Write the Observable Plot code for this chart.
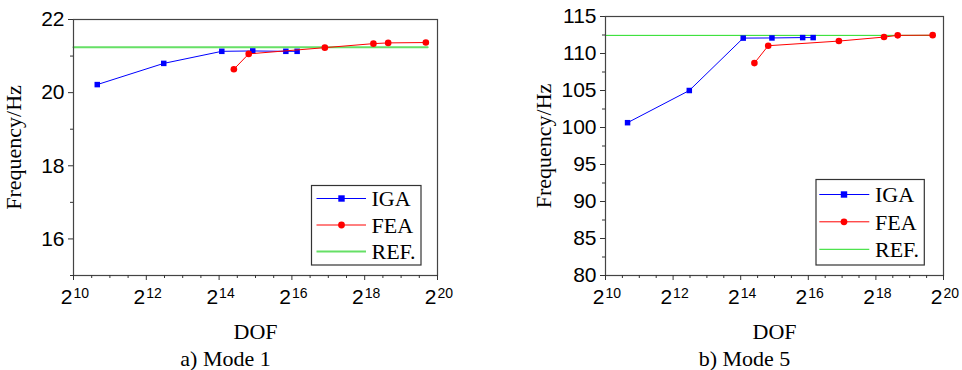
<!DOCTYPE html>
<html>
<head>
<meta charset="utf-8">
<script src="https://cdn.jsdelivr.net/npm/d3@7"></script>
<script src="https://cdn.jsdelivr.net/npm/@observablehq/plot@0.6"></script>
<style>
  body { margin: 0; background: white; }
  #wrap { display: flex; width: 962px; height: 370px; }
</style>
</head>
<body>
<div id="wrap"></div>
<script>
// ---- data ----
const dofIGA = [1610, 5710, 17250, 31100, 58400, 72400];
const dofFEA = [21700, 28800, 122700, 309600, 410000, 840000];
const dofREF = [1024, 870000];
const mode1IGA = [20.22, 20.80, 21.13, 21.14, 21.13, 21.13];
const mode1FEA = [20.64, 21.06, 21.23, 21.34, 21.36, 21.37];
const mode1REF = 21.24;
const mode5IGA = [100.65, 105.0, 112.08, 112.10, 112.15, 112.15];
const mode5FEA = [108.7, 111.05, 111.68, 112.22, 112.45, 112.48];
const mode5REF = 112.45;
const tickExps = [10, 12, 14, 16, 18, 20];
const minorExps = [10.5, 11, 11.5, 12.5, 13, 13.5, 14.5, 15, 15.5, 16.5, 17, 17.5, 18.5, 19, 19.5];
const seriesNames = ["IGA", "FEA", "REF."];
const seriesColors = ["#0000ff", "#ff0000", "#33dd33"];

const SANS = "Liberation Sans, Arial, sans-serif";
const SERIF = "Liberation Serif, Times New Roman, serif";

function panel(cfg) {
  const iga = dofIGA.map((d, i) => ({x: d, y: cfg.iga[i]}));
  const fea = dofFEA.map((d, i) => ({x: d, y: cfg.fea[i]}));
  const ref = dofREF.map(d => ({x: d, y: cfg.ref}));
  const svg = Plot.plot({
    width: 481,
    height: 370,
    marginLeft: cfg.ml,
    marginRight: cfg.mr,
    marginTop: cfg.mt,
    marginBottom: 95,
    style: {fontFamily: SANS, fontSize: "21px", color: "black", background: "white", overflow: "visible"},
    x: {type: "log", base: 2, domain: [2 ** 10, 2 ** 20], axis: null},
    y: {domain: cfg.ydomain, axis: null},
    marks: [
      Plot.line(ref, {x: "x", y: "y", stroke: cfg.refColor, strokeWidth: cfg.refWidth}),
      Plot.line(iga, {x: "x", y: "y", stroke: seriesColors[0], strokeWidth: 1}),
      Plot.dot(iga, {x: "x", y: "y", symbol: "square", fill: seriesColors[0], r: 3.1}),
      Plot.line(fea, {x: "x", y: "y", stroke: seriesColors[1], strokeWidth: 1}),
      Plot.dot(fea, {x: "x", y: "y", symbol: "circle", fill: seriesColors[1], r: 3.3}),
      Plot.frame({stroke: "#444", strokeWidth: 1.2}),
      Plot.axisY({ticks: cfg.yticks, tickSize: 5, tickPadding: 4, tickFormat: d => String(d), label: null, fontSize: 21, fontFamily: SANS, stroke: "#333"}),
      Plot.axisY({ticks: cfg.yminor, tickSize: 3, tickFormat: () => "", label: null, stroke: "#333"}),
      Plot.axisX({ticks: tickExps.map(e => 2 ** e), tickSize: 5, tickFormat: () => "", label: null, stroke: "#333"}),
      Plot.axisX({ticks: minorExps.map(e => 2 ** e), tickSize: 3, tickFormat: () => "", label: null, stroke: "#333"}),
      Plot.text(tickExps, {x: e => 2 ** e, text: () => "2", frameAnchor: "bottom", lineAnchor: "bottom", textAnchor: "end", dx: -1, dy: 28, fontSize: 21, fontFamily: SANS, fill: "black"}),
      Plot.text(tickExps, {x: e => 2 ** e, text: e => String(e), frameAnchor: "bottom", lineAnchor: "bottom", textAnchor: "start", dx: 0, dy: 22, fontSize: 14, fontFamily: SANS, fill: "black"}),
      Plot.text(["Frequency/Hz"], {frameAnchor: "left", textAnchor: "middle", lineAnchor: "middle", rotate: -90, dx: cfg.ylabDx, fontSize: 22, fontFamily: SERIF, fill: "black"}),
      Plot.text(["DOF"], {frameAnchor: "bottom", textAnchor: "middle", lineAnchor: "bottom", dy: 63, fontSize: 22, fontFamily: SERIF, fill: "black"}),
      Plot.text([cfg.caption], {frameAnchor: "bottom", textAnchor: "middle", lineAnchor: "bottom", dx: -30, dy: 90, fontSize: 22, fontFamily: SERIF, fill: "black"})
    ]
  });
  // legend
  const L = cfg.legend;
  const g = d3.select(svg).append("g");
  g.append("rect").attr("x", L.x0).attr("y", L.y0).attr("width", L.x1 - L.x0).attr("height", L.y1 - L.y0)
    .attr("fill", "white").attr("stroke", "#333").attr("stroke-width", 1.2);
  seriesNames.forEach((name, i) => {
    const y = L.rows[i];
    const col = i === 2 ? cfg.refColor : seriesColors[i];
    g.append("line").attr("x1", L.lx0).attr("x2", L.lx1).attr("y1", y).attr("y2", y)
      .attr("stroke", col).attr("stroke-width", i === 2 ? cfg.refWidth : 1);
    if (i === 0) g.append("rect").attr("x", L.mx - 3.2).attr("y", y - 3.2).attr("width", 6.4).attr("height", 6.4).attr("fill", col);
    if (i === 1) g.append("circle").attr("cx", L.mx).attr("cy", y).attr("r", 3.4).attr("fill", col);
    g.append("text").attr("x", L.tx).attr("y", y).attr("dy", "0.35em").attr("text-anchor", "start")
      .style("text-anchor", "start")
      .attr("font-family", SERIF).attr("font-size", 22).attr("fill", "black").text(name);
  });
  return svg;
}

const wrap = document.getElementById("wrap");
wrap.appendChild(panel({
  iga: mode1IGA, fea: mode1FEA, ref: mode1REF,
  ml: 73, mr: 44, mt: 19,
  ydomain: [15, 22], yticks: [16, 18, 20, 22], yminor: [15, 17, 19, 21],
  refColor: "#66e066", refWidth: 2,
  ylabDx: -59.5, caption: "a) Mode 1",
  legend: {x0: 311.5, x1: 421, y0: 185.5, y1: 265, rows: [198.5, 225, 251.5], lx0: 316.5, lx1: 366, mx: 341.5, tx: 371.5}
}));
wrap.appendChild(panel({
  iga: mode5IGA, fea: mode5FEA, ref: mode5REF,
  ml: 124, mr: 19, mt: 16,
  ydomain: [80, 115], yticks: [80, 85, 90, 95, 100, 105, 110, 115], yminor: [82.5, 87.5, 92.5, 97.5, 102.5, 107.5, 112.5],
  refColor: "#22dd22", refWidth: 1,
  ylabDx: -61.5, caption: "b) Mode 5",
  legend: {x0: 335, x1: 443.3, y0: 179.5, y1: 265, rows: [194.5, 221.8, 249.3], lx0: 338.3, lx1: 388.3, mx: 363, tx: 394}
}));
</script>
</body>
</html>
